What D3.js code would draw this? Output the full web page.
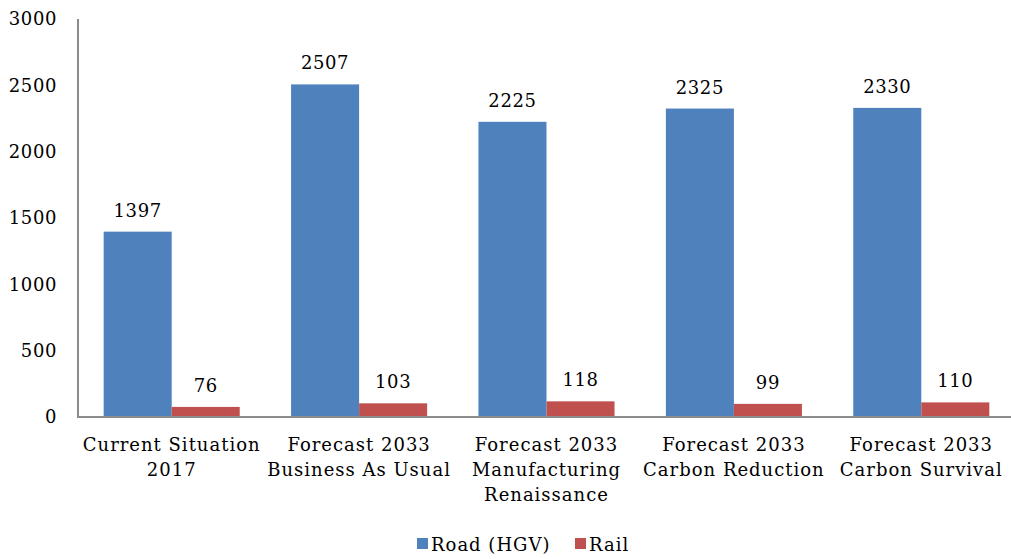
<!DOCTYPE html>
<html>
<head>
<meta charset="utf-8">
<script src="https://cdn.jsdelivr.net/npm/d3@7"></script>
<style>
  body { margin: 0; background: #fff; }
  svg text { font-family: "DejaVu Serif", "Liberation Serif", serif; fill: #000; }
</style>
</head>
<body>
<div id="chartDiv"></div>
<script>
  'use strict';

  const categories = [
    ['Current Situation', '2017'],
    ['Forecast 2033', 'Business As Usual'],
    ['Forecast 2033', 'Manufacturing', 'Renaissance'],
    ['Forecast 2033', 'Carbon Reduction'],
    ['Forecast 2033', 'Carbon Survival']
  ];
  const seriesNames = ['Road (HGV)', 'Rail'];
  const roadValues = [1397, 2507, 2225, 2325, 2330];
  const railValues = [76, 103, 118, 99, 110];
  const yTicks = [0, 500, 1000, 1500, 2000, 2500, 3000];
  const colors = ['#4F81BD', '#C0504D'];

  const width = 1011, height = 559;
  const plot = { left: 78, right: 1015, top: 19, bottom: 417 };

  const svg = d3.select('#chartDiv').append('svg')
    .attr('width', width).attr('height', height);

  const x0 = d3.scaleBand()
    .domain(d3.range(categories.length))
    .range([plot.left, plot.right])
    .paddingInner(0.274)
    .paddingOuter(0.137);

  const x1 = d3.scaleBand()
    .domain([0, 1])
    .range([0, x0.bandwidth()]);

  const y = d3.scaleLinear()
    .domain([0, 3000])
    .range([plot.bottom, plot.top]);

  // y axis labels (no ticks)
  svg.append('g').selectAll('text')
    .data(yTicks)
    .join('text')
    .attr('x', 57)
    .attr('y', d => y(d))
    .attr('dy', '0.35em')
    .attr('text-anchor', 'end')
    .style('font-size', '18px')
    .style('letter-spacing', '0.6px')
    .text(d => d);

  const groups = svg.append('g').selectAll('g')
    .data(categories.map((c, i) => i))
    .join('g')
    .attr('transform', i => `translate(${x0(i)},0)`);

  const barData = i => [roadValues[i], railValues[i]].map((v, s) => ({ v, s }));

  groups.selectAll('rect')
    .data(barData)
    .join('rect')
    .attr('x', d => x1(d.s))
    .attr('y', d => y(d.v))
    .attr('width', x1.bandwidth())
    .attr('height', d => y(0) - y(d.v))
    .attr('fill', d => colors[d.s]);

  groups.selectAll('text')
    .data(barData)
    .join('text')
    .attr('x', d => x1(d.s) + x1.bandwidth() / 2)
    .attr('y', d => y(d.v) - 15)
    .attr('text-anchor', 'middle')
    .style('font-size', '18px')
    .style('letter-spacing', '0.6px')
    .text(d => d.v);

  // axis lines
  svg.append('line')
    .attr('x1', plot.left).attr('x2', plot.left)
    .attr('y1', plot.top).attr('y2', plot.bottom)
    .attr('stroke', '#8c8c8c').attr('stroke-width', 2);
  svg.append('line')
    .attr('x1', plot.left - 1).attr('x2', width)
    .attr('y1', plot.bottom).attr('y2', plot.bottom)
    .attr('stroke', '#8c8c8c').attr('stroke-width', 2);

  // category labels
  svg.append('g').selectAll('text')
    .data(categories)
    .join('text')
    .attr('x', (d, i) => x0(i) + x0.bandwidth() / 2)
    .attr('y', 451)
    .attr('text-anchor', 'middle')
    .style('font-size', '18px')
    .style('letter-spacing', '1px')
    .each(function(lines) {
      d3.select(this).selectAll('tspan')
        .data(lines)
        .join('tspan')
        .attr('x', d3.select(this).attr('x'))
        .attr('dy', (d, k) => k === 0 ? 0 : 25)
        .text(d => d);
    });

  // legend
  const legend = svg.append('g');
  const legendX = [417, 575];
  seriesNames.forEach((name, i) => {
    legend.append('rect')
      .attr('x', legendX[i]).attr('y', 538)
      .attr('width', 11).attr('height', 11)
      .attr('fill', colors[i]);
    legend.append('text')
      .attr('x', legendX[i] + 14).attr('y', 551)
      .style('font-size', '18px')
      .style('letter-spacing', '1px')
      .text(name);
  });
</script>
</body>
</html>
